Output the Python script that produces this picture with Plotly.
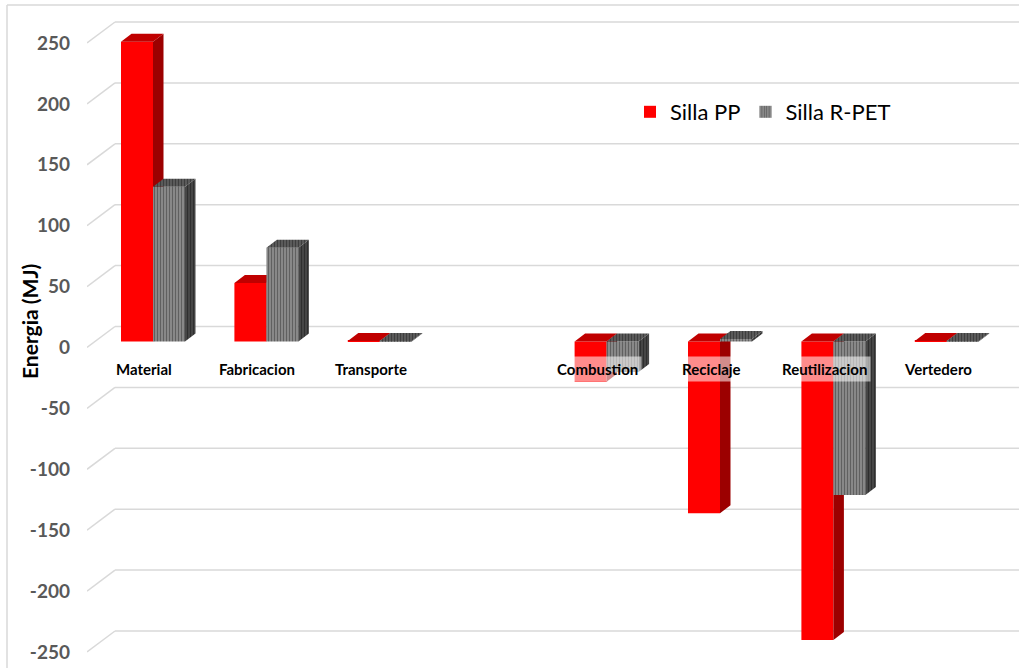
import plotly.graph_objects as go

# --- data -------------------------------------------------------------
categories = ["Material", "Fabricacion", "Transporte", "", "Combustion",
              "Reciclaje", "Reutilizacion", "Vertedero"]
silla_pp = [246, 48, 0.5, None, -33, -141, -245, 0.5]
silla_rpet = [127, 77, 0.5, None, -25, 2, -126, 0.5]
y_ticks = [250, 200, 150, 100, 50, 0, -50, -100, -150, -200, -250]
y_tick_text = ["250", "200", "150", "100", "50", "0", "-50", "-100",
               "-150", "-200", "-250"]
series_names = ["Silla PP", "Silla R-PET"]

# --- geometry of the pseudo-3D view (pixels -> data units) -------------
W, H = 1019, 668
PX_CAT = 113.4          # pixels per category
PX_VAL = 1.218          # pixels per MJ
X0_PX = 153             # pixel of category 0 on the bar plane
Y0_PX = 341.5           # pixel of value 0 on the bar plane
LEFT = 87               # left edge of the plotting area

def px2x(p):
    return (p - X0_PX) / PX_CAT

def px2y(p):
    return (Y0_PX - p) / PX_VAL

x_range = [px2x(LEFT), px2x(W)]
y_range = [px2y(H), px2y(0)]

BAR_W = 32 / PX_CAT                    # width of a column face
DEPTH_DX, DEPTH_DY = 10.5 / PX_CAT, 8 / PX_VAL      # column depth
FRONT_DX, FRONT_DY = -9 / PX_CAT, -6 / PX_VAL       # floor front edge
BACK_DX, BACK_DY = 19 / PX_CAT, 15 / PX_VAL         # back wall

xs = list(range(len(categories)))


def faces(values, offset):
    """Top and side polygons of each column, separated by None."""
    top_x, top_y, side_x, side_y = [], [], [], []
    for x, v in zip(xs, values):
        if v is None:
            continue
        x0 = x + offset
        x1 = x0 + BAR_W
        yt, yb = max(v, 0), min(v, 0)
        top_x += [x0, x1, x1 + DEPTH_DX, x0 + DEPTH_DX, x0, None]
        top_y += [yt, yt, yt + DEPTH_DY, yt + DEPTH_DY, yt, None]
        side_x += [x1, x1, x1 + DEPTH_DX, x1 + DEPTH_DX, x1, None]
        side_y += [yb, yt, yt + DEPTH_DY, yb + DEPTH_DY, yb, None]
    return (top_x, top_y), (side_x, side_y)


fig = go.Figure()

series = [
    dict(name=series_names[0], values=silla_pp, offset=-BAR_W,
         front=dict(color="#FF0000"),
         top=dict(fillcolor="#C00000"),
         side=dict(fillcolor="#9C0000"),
         axes=("x", "y")),
    dict(name=series_names[1], values=silla_rpet, offset=0.0,
         front=dict(color="#8C8C8C",
                    pattern=dict(shape="|", fgcolor="#262626",
                                 bgcolor="#9A9A9A", size=3, solidity=0.55)),
         top=dict(fillcolor="#555555",
                  fillpattern=dict(shape="|", fgcolor="#151515",
                                   bgcolor="#666666", size=3, solidity=0.55)),
         side=dict(fillcolor="#3C3C3C",
                   fillpattern=dict(shape="|", fgcolor="#0D0D0D",
                                    bgcolor="#505050", size=3, solidity=0.55)),
         axes=("x2", "y2")),
]

for s in series:
    xa, ya = s["axes"]
    (tx, ty), (sx, sy) = faces(s["values"], s["offset"])
    fig.add_trace(go.Bar(
        x=xs, y=s["values"], name=s["name"], width=BAR_W, offset=s["offset"],
        marker=dict(line=dict(width=0), **s["front"]),
        xaxis=xa, yaxis=ya, hoverinfo="skip"))
    fig.add_trace(go.Scatter(
        x=sx, y=sy, mode="none", fill="toself", showlegend=False,
        xaxis=xa, yaxis=ya, hoverinfo="skip", **s["side"]))
    fig.add_trace(go.Scatter(
        x=tx, y=ty, mode="none", fill="toself", showlegend=False,
        xaxis=xa, yaxis=ya, hoverinfo="skip", **s["top"]))

# back wall grid with the floor diagonals
grid = dict(color="#D9D9D9", width=1.5)
x_front = x_range[0]
x_back = x_range[0] + (BACK_DX - FRONT_DX)
for v in y_ticks:
    fig.add_shape(type="line", xref="x", yref="y", layer="below",
                  x0=x_front, y0=v + FRONT_DY, x1=x_back, y1=v + BACK_DY,
                  line=grid)
    fig.add_shape(type="line", xref="x", yref="y", layer="below",
                  x0=x_back, y0=v + BACK_DY, x1=x_range[1], y1=v + BACK_DY,
                  line=grid)

# outer chart border
fig.add_shape(type="line", xref="paper", yref="paper", layer="below",
              x0=(7 - LEFT) / (W - LEFT), x1=1.02,
              y0=1 - 5 / H, y1=1 - 5 / H, line=dict(color="#D9D9D9", width=1.5))
fig.add_shape(type="line", xref="paper", yref="paper", layer="below",
              x0=(7 - LEFT) / (W - LEFT), x1=(7 - LEFT) / (W - LEFT),
              y0=1 - 5 / H, y1=-0.05, line=dict(color="#D9D9D9", width=1.5))

# category labels on the floor front edge
for x, name in zip(xs, categories):
    if not name:
        continue
    fig.add_annotation(x=x + FRONT_DX, y=px2y(369), xref="x", yref="y",
                       text="<b>%s</b>" % name, showarrow=False,
                       font=dict(family="Lato", size=15, color="#000000"),
                       bgcolor="rgba(255,255,255,0.55)", borderpad=3)

# axis title
fig.add_annotation(x=(29 - LEFT) / (W - LEFT), y=1 - 322 / H,
                   xref="paper", yref="paper", text="<b>Energia (MJ)</b>",
                   xanchor="center", yanchor="middle",
                   textangle=-90, showarrow=False,
                   font=dict(family="Lato", size=21, color="#000000"))

fig.update_layout(
    width=W, height=H,
    margin=dict(l=LEFT, r=0, t=0, b=0),
    paper_bgcolor="white", plot_bgcolor="rgba(0,0,0,0)",
    barmode="overlay",
    showlegend=True,
    legend=dict(orientation="h", x=(630 - LEFT) / (W - LEFT), xanchor="left",
                y=1 - 112 / H, yanchor="middle",
                font=dict(family="Lato", size=22, color="#000000"),
                bgcolor="rgba(0,0,0,0)", itemwidth=30),
    xaxis=dict(range=x_range, visible=False),
    xaxis2=dict(range=x_range, visible=False, overlaying="x", matches="x"),
    yaxis=dict(range=y_range, tickvals=y_ticks, ticktext=y_tick_text,
               showgrid=False, zeroline=False, showline=False, ticks="",
               ticklabelshift=6, ticklabelstandoff=16,
               tickfont=dict(family="Lato", size=19, color="#595959",
                             weight="bold")),
    yaxis2=dict(range=y_range, visible=False, overlaying="y", matches="y"),
)

fig.write_html("out.html")
